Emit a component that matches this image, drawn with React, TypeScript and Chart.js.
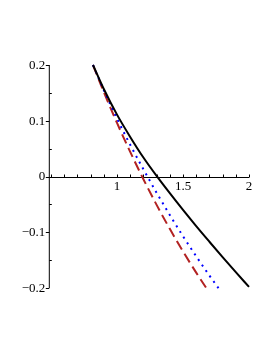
import { useEffect, useRef } from "react";
import { Chart, registerables } from "chart.js";
Chart.register(...registerables);

const blackX = [0.818, 0.9, 1.0, 1.1, 1.2, 1.3, 1.4, 1.5, 1.6, 1.7, 1.8, 1.9, 2.0];
const blackY = [0.2, 0.157, 0.111, 0.071, 0.034, 0.001, -0.030, -0.060, -0.089, -0.117, -0.1445, -0.1715, -0.198];
const redX = [0.818, 0.9, 1.0, 1.1, 1.2, 1.3, 1.4, 1.5, 1.6, 1.69];
const redY = [0.2, 0.1516, 0.0961, 0.0441, -0.0049, -0.0509, -0.0939, -0.1344, -0.1724, -0.2048];
const blueX = [0.818, 0.9, 1.0, 1.1, 1.2, 1.3, 1.4, 1.5, 1.6, 1.7, 1.77];
const blueY = [0.2, 0.1549, 0.1039, 0.0569, 0.0129, -0.0291, -0.0691, -0.1071, -0.1431, -0.1776, -0.2007];

const xTickValues = [0.5, 0.6, 0.7, 0.8, 0.9, 1.0, 1.1, 1.2, 1.3, 1.4, 1.5, 1.6, 1.7, 1.8, 1.9, 2.0];
const xLabelValues = [1, 1.5, 2];
const xLabels = ["1", "1.5", "2"];
const yMajorValues = [0.2, 0.1, 0, -0.1, -0.2];
const yLabels = ["0.2", "0.1", "0", "\u22120.1", "\u22120.2"];
const yMinorValues = [0.15, 0.05, -0.05, -0.15];

const toPts = (xs: number[], ys: number[]) => xs.map((x, i) => ({ x, y: ys[i] }));

const axesPlugin = {
  id: "mapleAxes",
  beforeDatasetsDraw(chart: any) {
    const { ctx, chartArea, scales } = chart;
    const xs = scales.x;
    const ys = scales.y;
    const y0 = Math.round(ys.getPixelForValue(0)) + 0.5;
    const xa = chartArea.left;
    ctx.save();
    ctx.strokeStyle = "#000";
    ctx.lineWidth = 1;
    ctx.beginPath();
    ctx.moveTo(chartArea.left, y0);
    ctx.lineTo(chartArea.right, y0);
    ctx.stroke();
    ctx.beginPath();
    ctx.moveTo(xa, chartArea.top);
    ctx.lineTo(xa, chartArea.bottom);
    ctx.stroke();
    ctx.beginPath();
    xTickValues.forEach((v) => {
      const px = Math.round(xs.getPixelForValue(v)) + 0.5;
      ctx.moveTo(px, y0);
      ctx.lineTo(px, y0 - 3);
    });
    ctx.stroke();
    ctx.beginPath();
    yMajorValues.forEach((v) => {
      const py = Math.round(ys.getPixelForValue(v)) + 0.5;
      ctx.moveTo(xa - 3.5, py);
      ctx.lineTo(xa, py);
    });
    yMinorValues.forEach((v) => {
      const py = Math.round(ys.getPixelForValue(v)) + 0.5;
      ctx.moveTo(xa, py);
      ctx.lineTo(xa + 2.5, py);
    });
    ctx.stroke();
    ctx.fillStyle = "#000";
    ctx.font = "13px 'Liberation Serif', serif";
    ctx.textAlign = "center";
    ctx.textBaseline = "top";
    xLabelValues.forEach((v, i) => {
      ctx.fillText(xLabels[i], xs.getPixelForValue(v), y0 + 3);
    });
    ctx.textAlign = "right";
    ctx.textBaseline = "middle";
    yMajorValues.forEach((v, i) => {
      ctx.fillText(yLabels[i], xa - 4, ys.getPixelForValue(v) + 0.5);
    });
    ctx.restore();
  },
};

export default function App() {
  const ref = useRef<HTMLCanvasElement | null>(null);
  useEffect(() => {
    if (!ref.current) return;
    const chart = new Chart(ref.current, {
      type: "scatter",
      data: {
        datasets: [
          {
            data: toPts(blackX, blackY),
            showLine: true,
            borderColor: "#000000",
            borderWidth: 2,
            pointRadius: 0,
            cubicInterpolationMode: "monotone",
            clip: false,
          },
          {
            data: toPts(blueX, blueY),
            showLine: true,
            borderColor: "#0000FF",
            borderWidth: 2,
            borderDash: [2, 4.7],
            pointRadius: 0,
            cubicInterpolationMode: "monotone",
            clip: false,
          },
          {
            data: toPts(redX, redY),
            showLine: true,
            borderColor: "#B22222",
            borderWidth: 2,
            borderDash: [10, 5],
            pointRadius: 0,
            cubicInterpolationMode: "monotone",
            clip: false,
          },
        ],
      } as any,
      options: {
        animation: false,
        responsive: false,
        devicePixelRatio: 1,
        layout: { padding: { left: 49.3, right: 24, top: 65, bottom: 65 } },
        plugins: { legend: { display: false }, tooltip: { enabled: false } },
        scales: {
          x: { type: "linear", min: 0.487, max: 2, display: false },
          y: { type: "linear", min: -0.2, max: 0.2, display: false },
        },
      } as any,
      plugins: [axesPlugin],
    });
    return () => chart.destroy();
  }, []);
  return (
    <div style={{ position: "absolute", left: 0, top: 0, width: 273, height: 353, background: "#fff" }}>
      <canvas ref={ref} width={273} height={353} style={{ display: "block" }} />
    </div>
  );
}
